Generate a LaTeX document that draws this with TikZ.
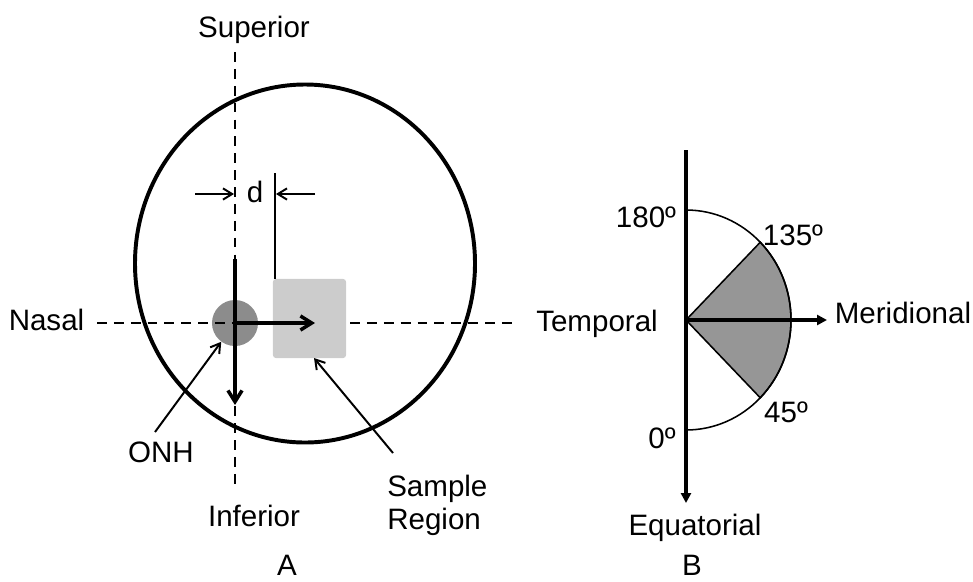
\documentclass[tikz,border=0pt]{standalone}
\usepackage{fontspec}
\setmainfont{Liberation Sans}
\usetikzlibrary{arrows.meta}
\definecolor{onhgray}{RGB}{140,140,140}
\definecolor{samplegray}{RGB}{204,204,204}
\definecolor{sectorgray}{RGB}{150,150,150}

\begin{document}
\begin{tikzpicture}[
    x=0.025cm, y=-0.025cm,
    lbl/.style={font=\fontsize{21}{23.4}\selectfont, inner sep=0pt, anchor=base},
    guide/.style={dash pattern=on 7pt off 5pt, line width=1.5pt},
    thickarr/.style={-{Straight Barb[length=8pt,width=10pt]}, line width=2.5pt},
    thinarr/.style={-{Straight Barb[length=6.5pt,width=8pt]}, line width=1.4pt},
    axisarr/.style={-{Triangle[length=7pt,width=7pt]}, line width=2.5pt}
  ]
  \useasboundingbox (0,0) rectangle (973,581);

  % panel A
  \draw[line width=2.8pt] (305,263.5) ellipse [x radius=170, y radius=179];
  \node[circle, fill=onhgray, minimum size=1.15cm, inner sep=0pt] (onh) at (235,323) {};
  \coordinate (suptop) at (235,52);
  \coordinate (infbot) at (235,487);
  \coordinate (nasend) at (97,323);
  \coordinate (temend) at (518,323);
  \draw[guide] (suptop) -- (infbot);
  \draw[guide] (nasend) -- (temend);
  \node[rectangle, rounded corners=2pt, fill=samplegray, minimum width=1.825cm, minimum height=1.975cm] (sample) at (309.5,318.5) {};

  \coordinate (vtop) at (235,259);
  \coordinate (vbot) at (235,405);
  \coordinate (hend) at (315,323);
  \draw[thickarr] (vtop) -- (vbot);
  \draw[thickarr] (onh.center) -- (hend);

  % distance d
  \coordinate (dltail) at (195,194);
  \coordinate (dltip) at (234,194);
  \coordinate (drtail) at (315,194);
  \coordinate (drtip) at (276,194);
  \coordinate (dtop) at (275,173);
  \coordinate (dbot) at (275,279);
  \draw[thinarr] (dltail) -- (dltip);
  \draw[thinarr] (drtail) -- (drtip);
  \draw[line width=1.4pt] (dtop) -- (dbot);

  \coordinate (onhtail) at (155,432);
  \coordinate (sampletail) at (393,453);
  \coordinate (sampletip) at (314,358);
  \draw[thinarr] (onhtail) -- (onh);
  \draw[thinarr] (sampletail) -- (sampletip);

  \node[lbl] (superior) at (254,37) {Superior};
  \node[lbl] (nasal) at (46.5,330) {Nasal};
  \node[lbl] (temporal) at (597,331) {Temporal};
  \node[lbl] (inferior) at (254,526) {Inferior};
  \node[lbl] (onhlabel) at (161,462) {ONH};
  \node[lbl, anchor=base west, align=left] (samplelabel) at (387,529) {Sample\\Region};
  \node[lbl] (dlabel) at (255,202) {d};
  \node[lbl] (panela) at (287,575) {A};

  % panel B
  \coordinate (bc) at (686,320);
  \filldraw[fill=sectorgray, line width=1.1pt] (bc) -- ++(-45:105 and 110) arc [start angle=-45, end angle=45, x radius=105, y radius=110] -- cycle;
  \draw[line width=1.1pt] (686,210) arc [start angle=-90, end angle=90, x radius=105, y radius=110];
  \coordinate (eqtop) at (686,150);
  \coordinate (eqtip) at (686,503);
  \coordinate (mertip) at (827,320);
  \draw[axisarr] (eqtop) -- (eqtip);
  \draw[axisarr] (bc) -- (mertip);

  \node[lbl] (deg180) at (646,227) {180º};
  \node[lbl] (deg135) at (793,245) {135º};
  \node[lbl] (deg45) at (786,422) {45º};
  \node[lbl] (deg0) at (662,448) {0º};
  \node[lbl] (meridional) at (903,323) {Meridional};
  \node[lbl] (equatorial) at (695,535) {Equatorial};
  \node[lbl] (panelb) at (692,575) {B};
\end{tikzpicture}
\end{document}
